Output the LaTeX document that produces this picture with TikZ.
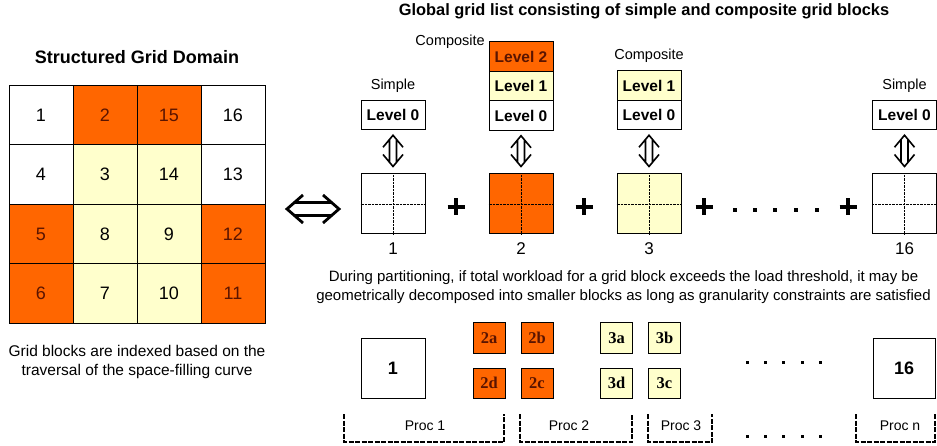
\documentclass[tikz,border=0pt]{standalone}
\usepackage{fontspec}
\setmainfont{Liberation Sans}
\newfontfamily\subfont{Liberation Serif}
\usepackage{tikz}
\usetikzlibrary{arrows.meta,calc}

\definecolor{hotblk}{HTML}{FF6600}
\definecolor{warmblk}{HTML}{FFFFCC}
\definecolor{hottext}{HTML}{5A1400}

\newcommand{\fsz}[1]{\fontsize{#1}{#1}\selectfont}

\tikzset{
  cell/.style={draw, line width=1pt, minimum width=64pt, minimum height=59.5pt,
    inner sep=0pt, font=\fsz{18}},
  plain/.style={cell, fill=white},
  hot/.style={cell, fill=hotblk, text=hottext},
  warm/.style={cell, fill=warmblk},
  lvl/.style={draw, line width=1pt, minimum width=64pt, minimum height=29.5pt,
    inner sep=0pt, font=\bfseries\fsz{15.5}},
  blk/.style={draw, line width=1pt, minimum width=64pt, minimum height=60pt, inner sep=0pt},
  subblk/.style={draw, line width=1pt, minimum width=32pt, minimum height=30pt,
    inner sep=0pt, font=\subfont\bfseries\fsz{16.5}},
  tag/.style={font=\fsz{14.5}, inner sep=0pt},
  hollow/.style={line width=1.6pt},
  procline/.style={line width=1.7pt, dash pattern=on 5pt off 1.5pt},
}

\begin{document}
\begin{tikzpicture}[x=1pt,y=-1pt]
\useasboundingbox (0,0) rectangle (937,446);

% structured grid on the left
\node[font=\bfseries\fsz{18}] (domtitle) at (137,57) {Structured Grid Domain};
\foreach \n/\c/\r/\s in {1/0/0/plain, 2/1/0/hot, 15/2/0/hot, 16/3/0/plain,
                         4/0/1/plain, 3/1/1/warm, 14/2/1/warm, 13/3/1/plain,
                         5/0/2/hot, 8/1/2/warm, 9/2/2/warm, 12/3/2/hot,
                         6/0/3/hot, 7/1/3/warm, 10/2/3/warm, 11/3/3/hot}
  \node[\s] (g\n) at ({41+64*\c},{115+59.5*\r}) {\n};
\node[align=center, font=\fsz{15.5}] (domnote) at (137,361.5)
  {Grid blocks are indexed based on the\\[3.5pt]traversal of the space-filling curve};

% equivalence arrow
\coordinate (eqa) at (287,209);
\coordinate (eqb) at (339,209);
\draw[line width=2.8pt]
  ($(eqa)+(16,-14)$) -- (eqa) -- ($(eqa)+(16,14)$)
  ($(eqb)+(-16,-14)$) -- (eqb) -- ($(eqb)+(-16,14)$)
  ($(eqa)+(7.4,-6.5)$) -- ($(eqb)+(-7.4,-6.5)$)
  ($(eqa)+(7.4,6.5)$) -- ($(eqb)+(-7.4,6.5)$);

% global list
\node[font=\bfseries\fsz{16.4}] (listtitle) at (644,11)
  {Global grid list consisting of simple and composite grid blocks};

\foreach \k/\x/\f in {1/393/white, 2/521/hotblk, 3/649/warmblk, 16/904.5/white} {
  \node[blk, fill=\f] (b\k) at (\x,204) {};
  \node[font=\fsz{17}] (n\k) at (\x,249) {\k};
  \draw[densely dotted] (b\k.north) -- (b\k.south) (b\k.west) -- (b\k.east);
}

% level stacks
\node[lvl] (l1z) at (393,115) {Level 0};
\node[lvl] (l2z) at (521,115.5) {Level 0};
\node[lvl, fill=warmblk] (l2a) at (521,86) {Level 1};
\node[lvl, fill=hotblk, text=hottext] (l2b) at (521,56.5) {Level 2};
\node[lvl] (l3z) at (649,115) {Level 0};
\node[lvl, fill=warmblk] (l3a) at (649,85.5) {Level 1};
\node[lvl] (l16z) at (904.5,115) {Level 0};

\node[tag] (s1) at (393,86) {Simple};
\node[tag, anchor=east] (c2) at (485,42) {Composite};
\node[tag] (c3) at (649,56) {Composite};
\node[tag] (s16) at (904.5,86) {Simple};

% hollow up-down arrows between a level stack and its block
\foreach \k/\l in {1/l1z, 2/l2z, 3/l3z, 16/l16z} {
  \coordinate (ua) at ($(\l.south)+(0,5)$);
  \coordinate (ub) at ($(b\k.north)+(0,-7)$);
  \draw[hollow]
    ($(ua)+(-10,12)$) -- (ua) -- ($(ua)+(10,12)$)
    ($(ub)+(-10,-12)$) -- (ub) -- ($(ub)+(10,-12)$)
    ($(ua)+(-3.5,4.2)$) -- ($(ub)+(-3.5,-4.2)$)
    ($(ua)+(3.5,4.2)$) -- ($(ub)+(3.5,-4.2)$);
}

% plus signs and dots
\foreach \x in {456,584,704,848}
  \draw[line width=3.8pt] (\x-8.5,207) -- (\x+8.5,207) (\x,198.5) -- (\x,215.5);
\foreach \x in {735,755,775,796,817}
  \fill (\x-2,208) rectangle (\x+2,212);

\node[align=center, font=\fsz{15}] (partnote) at (623.5,287.5)
  {During partitioning, if total workload for a grid block exceeds the load threshold, it may be\\[4pt]
   geometrically decomposed into smaller blocks as long as granularity constraints are satisfied};

% decomposed blocks
\node[blk, font=\bfseries\fsz{18}] (d1) at (393,368) {1};
\node[blk, minimum width=62pt, font=\bfseries\fsz{18}] (d16) at (904,368) {16};
\foreach \t/\x/\y in {2a/489/338, 2b/537/338, 2d/489/383, 2c/537/383}
  \node[subblk, fill=hotblk, text=hottext] (d\t) at (\x,\y) {\t};
\foreach \t/\x/\y in {3a/616.5/338, 3b/664.5/338, 3d/616.5/383, 3c/664.5/383}
  \node[subblk, fill=warmblk] (d\t) at (\x,\y) {\t};
\foreach \x in {747,765,783,802,820} {
  \fill (\x-1.5,360.5) rectangle (\x+1.5,363.5);
  \fill (\x-1.5,434.5) rectangle (\x+1.5,437.5);
}

% processor brackets
\foreach \a/\b/\lx/\t/\m in {344/504/425/Proc 1/p1, 520/632/569/Proc 2/p2,
                             648/712/681/Proc 3/p3, 856/935/900/Proc n/pn} {
  \draw[procline] (\a,414) -- (\a,442) -- (\b,442) -- (\b,414);
  \node[tag, font=\fsz{14}] (\m) at (\lx,426) {\t};
}
\end{tikzpicture}
\end{document}
